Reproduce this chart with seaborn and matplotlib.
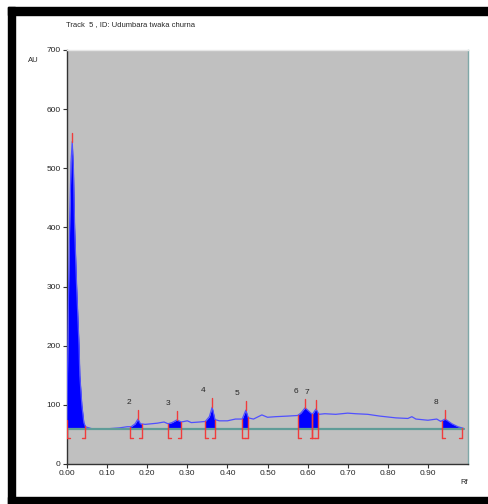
import numpy as np
import pandas as pd
import matplotlib
matplotlib.use("Agg")
import matplotlib.pyplot as plt
import seaborn as sns
from matplotlib.patches import Rectangle

# densitometric trace (Rf, AU)
rf = [0.000, 0.001, 0.004, 0.007, 0.010, 0.013, 0.016, 0.019, 0.024, 0.030,
      0.032, 0.037, 0.042, 0.046, 0.050, 0.060, 0.070, 0.090, 0.110, 0.130,
      0.150, 0.160, 0.170, 0.177, 0.183, 0.195, 0.210, 0.225, 0.242, 0.252,
      0.262, 0.274, 0.285, 0.300, 0.310, 0.330, 0.345, 0.355, 0.362, 0.369,
      0.380, 0.400, 0.420, 0.437, 0.446, 0.452, 0.465, 0.486, 0.500, 0.520,
      0.550, 0.575, 0.583, 0.594, 0.605, 0.612, 0.621, 0.628, 0.643, 0.670,
      0.700, 0.720, 0.750, 0.780, 0.820, 0.850, 0.860, 0.870, 0.900, 0.922,
      0.932, 0.943, 0.960, 0.975, 0.990]
au = [75, 140, 300, 420, 510, 545, 500, 400, 300, 200,
      150, 100, 70, 63, 62, 60, 59, 59, 60, 61,
      63, 63, 68, 76, 68, 67, 68, 69, 71, 68,
      70, 74.5, 71, 73, 70, 71, 72, 80, 96, 75,
      73, 73, 76, 76, 91, 78, 76, 83, 79, 80,
      81, 82, 86, 95, 88, 84, 93, 84, 85, 84,
      86, 85, 84, 81, 78, 77, 80, 76, 74, 76,
      72, 76, 68, 63, 60]

baseline_au = 59
baseline_end = 0.99

peak_labels = ["", "2", "3", "4", "5", "6", "7", "8"]
peak_rf = [0.013, 0.177, 0.274, 0.362, 0.446, 0.594, 0.621, 0.943]
peak_start = [0.000, 0.157, 0.252, 0.344, 0.437, 0.576, 0.612, 0.935]
peak_end = [0.045, 0.187, 0.284, 0.369, 0.451, 0.612, 0.626, 0.985]

title = "Track  5 , ID: Udumbara twaka churna"

df = pd.DataFrame({"Rf": rf, "AU": au})

sns.set_style("white")
plt.rcParams["font.family"] = ["Liberation Sans", "DejaVu Sans"]

fig = plt.figure(figsize=(4.88, 5.04), dpi=100)
ax = fig.add_axes([67 / 488, 1 - 464 / 504, 401 / 488, 414 / 504])
ax.set_facecolor("#c0c0c0")

# filled peak areas
for s, e in zip(peak_start, peak_end):
    xs = [s] + [r for r in rf if s < r < e] + [e]
    ys = np.interp(xs, rf, au)
    ax.fill_between(xs, baseline_au, ys, color="#0000ff", lw=0, zorder=3)

# the trace itself
sns.lineplot(data=df, x="Rf", y="AU", ax=ax, color="#5050ff", lw=0.9, zorder=4,
             estimator=None, sort=False)

# baseline drawn over the trace, as in the scan
ax.plot([0, baseline_end], [baseline_au, baseline_au], color="#5f9c98", lw=1.6, zorder=4.5)

# integration brackets
red = "#f03c3c"
for s, e in zip(peak_start, peak_end):
    for x0, d in ((s, 0.007), (e, -0.007)):
        top = np.interp(x0, rf, au)
        ax.plot([x0, x0], [44, top], color=red, lw=1.0, zorder=5)
        ax.plot([x0, x0 + d], [44, 44], color=red, lw=1.0, zorder=5)

# peak max ticks and numbers
for lab, p in zip(peak_labels, peak_rf):
    h = np.interp(p, rf, au)
    ax.plot([p, p], [h, h + 15], color=red, lw=1.0, zorder=5)
    if lab:
        ax.text(p - 0.023, h + 28, lab, fontsize=6, ha="center", va="center")

ax.set_xlim(0, 1.0)
ax.set_ylim(0, 700)
ax.set_xticks(np.arange(0, 0.95, 0.1))
ax.set_xticklabels([f"{t:.2f}" for t in np.arange(0, 0.95, 0.1)])
ax.set_yticks(range(0, 701, 100))
ax.tick_params(axis="both", labelsize=6, length=3, width=0.8, direction="out",
               pad=1.5, color="#333333", left=True, bottom=True)
ax.set_xlabel("")
ax.set_ylabel("")
for side in ("left", "bottom"):
    ax.spines[side].set_color("#333333")
    ax.spines[side].set_linewidth(1.0)
ax.spines["top"].set_color("#e6e6e6")
ax.spines["right"].set_color("#7fa8a8")
ax.spines["top"].set_linewidth(1.0)
ax.spines["right"].set_linewidth(1.0)

fig.text(66 / 488, 1 - 25 / 504, title, fontsize=5.5, ha="left", va="center")
fig.text(33 / 488, 1 - 61 / 504, "AU", fontsize=5.5, ha="center", va="center")
fig.text(464 / 488, 1 - 483 / 504, "Rf", fontsize=5.5, ha="center", va="center")

# black frame of the scanned report
W, H = 488, 504
for x0, y0, w, h in ((8, 7, 480, 8), (8, 7, 7, 497), (8, 497, 480, 7)):
    fig.patches.append(Rectangle((x0 / W, 1 - (y0 + h) / H), w / W, h / H,
                                 transform=fig.transFigure, color="black", zorder=10))

fig.savefig("out.png", dpi=100)
